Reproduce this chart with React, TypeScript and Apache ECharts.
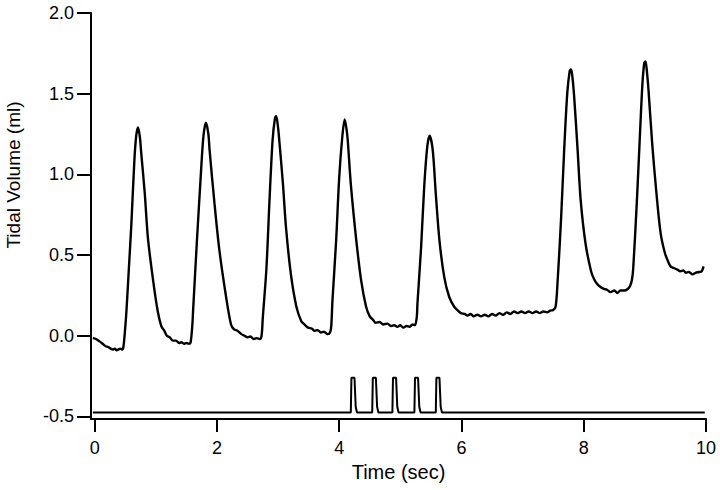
import React, { useEffect, useRef } from "react";
import * as echarts from "echarts";

const breathTime = [
  -0.03, 0.02, 0.08, 0.13, 0.18, 0.22, 0.26, 0.3, 0.33, 0.36, 0.39, 0.42, 0.45, 0.47, 0.5, 0.52, 0.56, 0.6, 0.65, 0.68,
  0.71, 0.74, 0.76, 0.82, 0.87, 0.95, 1.03, 1.09, 1.14, 1.18, 1.23, 1.28, 1.33, 1.38, 1.42, 1.46, 1.5, 1.54, 1.57, 1.6,
  1.61, 1.67, 1.74, 1.78, 1.82, 1.86, 1.88, 1.96, 2.04, 2.15, 2.23, 2.28, 2.34, 2.4, 2.45, 2.5, 2.55, 2.6, 2.65, 2.7,
  2.73, 2.75, 2.81, 2.86, 2.91, 2.95, 2.97, 3.0, 3.02, 3.08, 3.13, 3.21, 3.3, 3.38, 3.43, 3.49, 3.55, 3.6, 3.65, 3.7,
  3.75, 3.81, 3.85, 3.87, 3.89, 3.95, 4.0, 4.05, 4.09, 4.12, 4.14, 4.19, 4.28, 4.36, 4.44, 4.5, 4.55, 4.6, 4.66, 4.72,
  4.79, 4.85, 4.9, 4.95, 5.0, 5.05, 5.1, 5.15, 5.2, 5.24, 5.27, 5.28, 5.34, 5.39, 5.44, 5.48, 5.53, 5.58, 5.64, 5.72,
  5.8, 5.88, 5.93, 5.99, 6.05, 6.1, 6.15, 6.2, 6.26, 6.32, 6.38, 6.44, 6.5, 6.56, 6.62, 6.68, 6.74, 6.8, 6.86, 6.92,
  6.98, 7.04, 7.1, 7.16, 7.22, 7.28, 7.34, 7.4, 7.45, 7.5, 7.54, 7.57, 7.63, 7.68, 7.73, 7.77, 7.79, 7.81, 7.84, 7.9,
  7.95, 8.03, 8.12, 8.17, 8.22, 8.28, 8.33, 8.38, 8.44, 8.5, 8.55, 8.6, 8.66, 8.72, 8.76, 8.79, 8.81, 8.87, 8.92, 8.96,
  8.99, 9.01, 9.03, 9.06, 9.12, 9.19, 9.26, 9.33, 9.38, 9.42, 9.47, 9.53, 9.58, 9.63, 9.67, 9.72, 9.78, 9.83, 9.89, 9.93,
  9.96,
];

const breathVolume = [
  -0.015, -0.02, -0.035, -0.05, -0.065, -0.07, -0.08, -0.085, -0.08, -0.09, -0.085, -0.08, -0.085, -0.07, 0.05, 0.155, 0.42, 0.69, 1.09, 1.24,
  1.29, 1.23, 1.14, 0.88, 0.61, 0.36, 0.155, 0.06, 0.03, 0.0, -0.01, -0.03, -0.03, -0.045, -0.04, -0.05, -0.045, -0.05, -0.04, 0.08,
  0.155, 0.57, 1.02, 1.24, 1.32, 1.25, 1.15, 0.82, 0.53, 0.24, 0.07, 0.04, 0.03, 0.01, 0.0, -0.01, -0.005, -0.02, -0.015, -0.02,
  0.0, 0.11, 0.42, 0.84, 1.21, 1.35, 1.36, 1.29, 1.21, 0.94, 0.67, 0.38, 0.18, 0.09, 0.07, 0.05, 0.045, 0.03, 0.035, 0.02,
  0.025, 0.01, 0.02, 0.06, 0.22, 0.59, 0.98, 1.23, 1.34, 1.28, 1.21, 0.94, 0.59, 0.34, 0.18, 0.12, 0.1, 0.08, 0.085, 0.07,
  0.075, 0.06, 0.065, 0.055, 0.065, 0.05, 0.06, 0.055, 0.07, 0.065, 0.12, 0.2, 0.55, 0.92, 1.17, 1.24, 1.15, 0.88, 0.59, 0.36,
  0.24, 0.18, 0.16, 0.14, 0.135, 0.125, 0.135, 0.12, 0.13, 0.12, 0.13, 0.12, 0.135, 0.125, 0.14, 0.13, 0.145, 0.135, 0.15, 0.14,
  0.15, 0.14, 0.15, 0.14, 0.15, 0.14, 0.15, 0.145, 0.155, 0.16, 0.18, 0.32, 0.73, 1.15, 1.5, 1.64, 1.65, 1.62, 1.5, 1.15,
  0.84, 0.57, 0.4, 0.35, 0.32, 0.3, 0.29, 0.285, 0.27, 0.28, 0.265, 0.28, 0.28, 0.29, 0.31, 0.35, 0.42, 0.84, 1.25, 1.56,
  1.69, 1.7, 1.65, 1.52, 1.19, 0.88, 0.63, 0.51, 0.46, 0.43, 0.42, 0.41, 0.4, 0.405, 0.39, 0.395, 0.38, 0.39, 0.395, 0.4,
  0.43,
];

const stimTime = [
  -0.03, 4.19, 4.2, 4.25, 4.27, 4.29, 4.54, 4.55, 4.6, 4.62, 4.64, 4.87, 4.88, 4.93, 4.95, 4.97,
  5.23, 5.24, 5.29, 5.31, 5.33, 5.58, 5.59, 5.64, 5.66, 5.68, 9.98,
];
const stimLevel = [
  -0.475, -0.475, -0.26, -0.26, -0.44, -0.475, -0.475, -0.26, -0.26, -0.44, -0.475, -0.475, -0.26, -0.26, -0.44, -0.475,
  -0.475, -0.26, -0.26, -0.44, -0.475, -0.475, -0.26, -0.26, -0.44, -0.475, -0.475,
];

const xTicks = [0, 2, 4, 6, 8, 10];
const yTicks = [-0.5, 0, 0.5, 1, 1.5, 2];

const FONT = '"Liberation Sans", Arial, Helvetica, sans-serif';

export default function App() {
  const ref = useRef<HTMLDivElement>(null);
  useEffect(() => {
    if (!ref.current) return;
    const chart = echarts.init(ref.current, undefined, { renderer: "svg" });
    const breath = breathTime.map((t, i) => [t, breathVolume[i]]);
    const stim = stimTime.map((t, i) => [t, stimLevel[i]]);
    chart.setOption({
      animation: false,
      backgroundColor: "#ffffff",
      grid: { left: 91, right: 14, top: 13, bottom: 71, containLabel: false, outerBoundsMode: "none" },
      xAxis: {
        type: "value",
        min: -0.06,
        max: 10,
        name: "Time (sec)",
        nameLocation: "middle",
        nameGap: 36,
        nameTextStyle: { fontFamily: FONT, fontSize: 20, color: "#000" },
        axisLine: { show: true, onZero: false, lineStyle: { color: "#000", width: 2 } },
        axisTick: { show: true, inside: false, length: 13, customValues: xTicks, lineStyle: { color: "#000", width: 2 } },
        axisLabel: {
          customValues: xTicks,
          margin: 20,
          fontFamily: FONT,
          fontSize: 18,
          color: "#000",
        },
        splitLine: { show: false },
      },
      yAxis: {
        type: "value",
        min: -0.516,
        max: 2,
        name: "Tidal Volume (ml)",
        nameLocation: "middle",
        nameGap: 68,
        nameTextStyle: { fontFamily: FONT, fontSize: 19, color: "#000", padding: [0, 0, 0, 82] },
        axisLine: { show: true, onZero: false, lineStyle: { color: "#000", width: 2 } },
        axisTick: { show: true, inside: false, length: 14, customValues: yTicks, lineStyle: { color: "#000", width: 2 } },
        axisLabel: {
          customValues: yTicks,
          margin: 17,
          fontFamily: FONT,
          fontSize: 18,
          color: "#000",
          formatter: (v: number) => v.toFixed(1),
        },
        splitLine: { show: false },
      },
      series: [
        {
          type: "line",
          data: breath,
          showSymbol: false,
          smooth: 0.3,
          lineStyle: { color: "#000", width: 2.4 },
          silent: true,
        },
        {
          type: "line",
          data: stim,
          showSymbol: false,
          lineStyle: { color: "#000", width: 2 },
          silent: true,
        },
      ],
    });
    return () => chart.dispose();
  }, []);
  return <div ref={ref} style={{ width: 720, height: 490, position: "absolute", left: 0, top: 0 }} />;
}
